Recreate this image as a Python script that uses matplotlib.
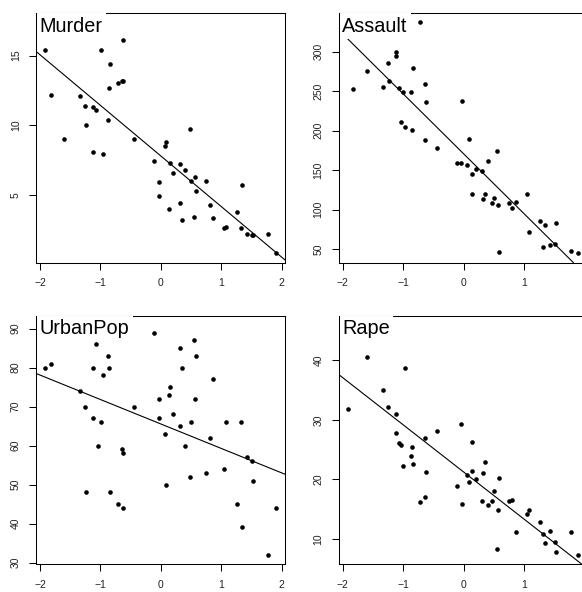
import numpy as np
import matplotlib
matplotlib.use("Agg")
import matplotlib.pyplot as plt

# USArrests, one entry per state, and each state's score on the first component
states = ["Alabama", "Alaska", "Arizona", "Arkansas", "California", "Colorado",
          "Connecticut", "Delaware", "Florida", "Georgia", "Hawaii", "Idaho",
          "Illinois", "Indiana", "Iowa", "Kansas", "Kentucky", "Louisiana",
          "Maine", "Maryland", "Massachusetts", "Michigan", "Minnesota",
          "Mississippi", "Missouri", "Montana", "Nebraska", "Nevada",
          "New Hampshire", "New Jersey", "New Mexico", "New York",
          "North Carolina", "North Dakota", "Ohio", "Oklahoma", "Oregon",
          "Pennsylvania", "Rhode Island", "South Carolina", "South Dakota",
          "Tennessee", "Texas", "Utah", "Vermont", "Virginia", "Washington",
          "West Virginia", "Wisconsin", "Wyoming"]

score = [-0.626, -1.238, -1.120, 0.090, -1.603, -0.962, 0.863, -0.030, -1.913,
         -1.041, 0.580, 1.041, -0.876, 0.321, 1.431, 0.506, 0.477, -0.994,
         1.522, -1.120, 0.309, -1.339, 1.075, -0.633, -0.442, 0.753, 0.804,
         -1.825, 1.514, -0.115, -1.257, -1.068, -0.713, 1.900, 0.144, 0.198,
         -0.038, 0.564, 0.549, -0.839, 1.262, -0.635, -0.860, 0.350, 1.779,
         0.061, 0.138, 1.339, 1.321, 0.400]

murder = [13.2, 10.0, 8.1, 8.8, 9.0, 7.9, 3.3, 5.9, 15.4, 17.4, 5.3, 2.6, 10.4,
          7.2, 2.2, 6.0, 9.7, 15.4, 2.1, 11.3, 4.4, 12.1, 2.7, 16.1, 9.0, 6.0,
          4.3, 12.2, 2.1, 7.4, 11.4, 11.1, 13.0, 0.8, 7.3, 6.6, 4.9, 6.3, 3.4,
          14.4, 3.8, 13.2, 12.7, 3.2, 2.2, 8.5, 4.0, 5.7, 2.6, 6.8]

assault = [236, 263, 294, 190, 276, 204, 110, 238, 335, 211, 46, 120, 249, 113,
           56, 115, 109, 249, 83, 300, 149, 255, 72, 259, 178, 109, 102, 252,
           57, 159, 285, 254, 337, 45, 120, 151, 159, 106, 174, 279, 86, 188,
           201, 120, 48, 156, 145, 81, 53, 161]

urbanpop = [58, 48, 80, 50, 91, 78, 77, 72, 80, 60, 83, 54, 83, 65, 57, 66, 52,
            66, 51, 67, 85, 74, 66, 44, 70, 53, 62, 81, 56, 89, 70, 86, 45, 44,
            75, 68, 67, 72, 87, 48, 45, 59, 80, 80, 32, 63, 73, 39, 66, 60]

rape = [21.2, 44.5, 31.0, 19.5, 40.6, 38.7, 11.1, 15.8, 31.9, 25.8, 20.2, 14.2,
        24.0, 21.0, 11.3, 18.0, 16.3, 22.2, 7.8, 27.8, 16.3, 35.1, 14.9, 17.1,
        28.2, 16.4, 16.5, 46.0, 9.5, 18.8, 32.1, 26.1, 16.1, 7.3, 21.4, 20.0,
        29.3, 14.9, 8.3, 22.5, 12.8, 26.9, 25.5, 22.9, 11.2, 20.7, 26.2, 9.3,
        10.8, 15.6]

names = ["Murder", "Assault", "UrbanPop", "Rape"]
yticks = [[5, 10, 15], [50, 100, 150, 200, 250, 300],
          [30, 40, 50, 60, 70, 80, 90], [10, 20, 30, 40]]
xticks = [-2, -1, 0, 1, 2]

W, H = 582, 592
plt.rcParams['font.family'] = ['Liberation Sans', 'DejaVu Sans']
fig = plt.figure(figsize=(W / 100, H / 100), dpi=100)

# panel boxes in pixels: left, top, width, height (right column runs off the edge)
boxes = [(36, 13, 249, 249.5), (338.7, 13, 249, 249.5),
         (36, 315.5, 249, 248.5), (338.7, 315.5, 249, 248.5)]

x = np.array(score)
for i, vals in enumerate([murder, assault, urbanpop, rape]):
    y = np.array(vals, dtype=float)
    l, t, w, h = boxes[i]
    ax = fig.add_axes([l / W, 1 - (t + h) / H, w / W, h / H])
    ax.plot(x, y, 'o', color='black', markersize=3.3, markeredgewidth=0,
            zorder=3)
    ax.margins(x=0.04, y=0.04)
    slope, icpt = np.polyfit(x, y, 1)
    ax.axline((0, icpt), slope=slope, color='black', lw=0.8, zorder=3)

    ax.set_xticks(xticks)
    ax.set_xticklabels([str(v).replace('-', '\u2212') for v in xticks])
    ax.set_yticks(yticks[i])
    ax.tick_params(length=5, width=0.75, labelsize=7.5, labelcolor='#222222')
    ax.tick_params(axis='x', pad=6.5)
    ax.tick_params(axis='y', pad=6)
    for lab in ax.get_yticklabels():
        lab.set_rotation(90)
        lab.set_va('center')
    for s in ax.spines.values():
        s.set_linewidth(0.75)
    ax.spines['left'].set_zorder(10)

    ax.annotate(names[i], xy=(0, 1), xycoords='axes fraction',
                xytext=(3.5, -3.5), textcoords='offset pixels',
                ha='left', va='top', fontsize=14.3, zorder=6,
                bbox=dict(boxstyle='square,pad=0.17', facecolor='white',
                          edgecolor='none'))

fig.savefig("out.png", dpi=100)
